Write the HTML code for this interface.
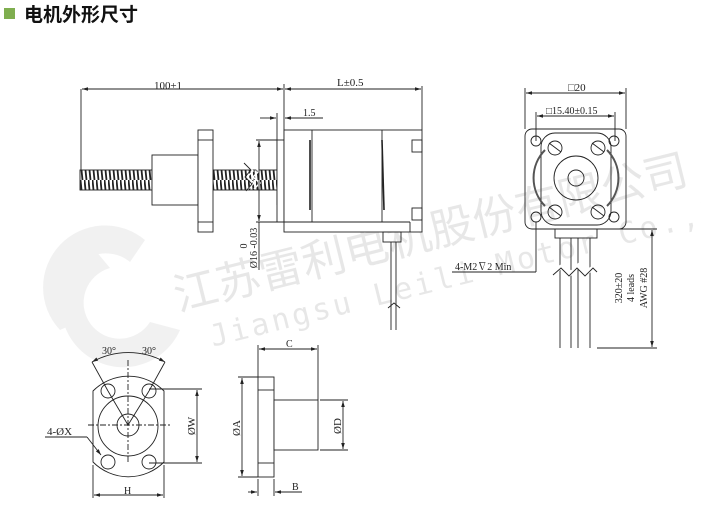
<!DOCTYPE html>
<html><head><meta charset="utf-8"><style>
html,body{margin:0;padding:0;background:#fff;width:701px;height:517px;overflow:hidden}
svg{display:block}
text{font-family:"Liberation Serif","Noto Serif CJK SC",serif;fill:#222}
</style></head><body>
<svg width="701" height="517" viewBox="0 0 701 517" xmlns="http://www.w3.org/2000/svg">
<defs>
<marker id="a" viewBox="0 0 10 6" refX="10" refY="3" markerWidth="8" markerHeight="4" orient="auto-start-reverse"><path d="M0,0L10,3L0,6z" fill="#222"/></marker>
<pattern id="thr" width="4" height="20" patternUnits="userSpaceOnUse"><rect width="4" height="20" fill="#fff"/><line x1="0.5" y1="0" x2="2.5" y2="20" stroke="#222" stroke-width="1.8"/></pattern>
</defs>
<!-- title -->
<rect x="4" y="8" width="11" height="11" fill="#7fae4f"/>
<text x="24" y="21" style="font-family:'Liberation Sans','Noto Sans CJK SC',sans-serif;font-weight:bold;font-size:19px;fill:#111">电机外形尺寸</text>

<!-- watermark -->
<g opacity="0.07" fill="#444">
<path d="M95,250 A62,62 0 1 0 180,330 L150,322 A36,36 0 1 1 110,268 Z"/>
<path d="M60,330 A62,62 0 0 1 145,240 L130,262 A36,36 0 0 0 82,320 Z"/>
</g>
<g transform="rotate(-14 400 230)" opacity="0.11">
<text x="165" y="255" style="font-family:'Noto Sans CJK SC',sans-serif;font-size:44px;fill:#333">江苏雷利电机股份有限公司</text>
<text x="190" y="298" style="font-family:'DejaVu Sans Mono',monospace;font-size:30px;fill:#333;letter-spacing:3px">Jiangsu Leili Motor Co.,Ltd.</text>
</g>

<g stroke="#222" stroke-width="0.9" fill="none">
<!-- top dims -->
<line x1="81" y1="89" x2="81" y2="170"/>
<line x1="284" y1="84" x2="284" y2="150"/>
<line x1="422" y1="86" x2="422" y2="130"/>
<line x1="82" y1="89" x2="283" y2="89" marker-start="url(#a)" marker-end="url(#a)"/>
<line x1="285" y1="89" x2="421" y2="89" marker-start="url(#a)" marker-end="url(#a)"/>
<line x1="260" y1="118" x2="276" y2="118" marker-end="url(#a)"/>
<line x1="285" y1="118" x2="323" y2="118" marker-start="url(#a)"/>
<line x1="277" y1="113" x2="277" y2="205"/>
<!-- leadscrew -->
<rect x="80" y="170" width="72" height="20" fill="url(#thr)"/>
<rect x="213" y="170" width="64" height="20" fill="url(#thr)"/>
<rect x="152" y="155" width="46" height="50" fill="#fff"/>
<rect x="198" y="130" width="15" height="102" fill="#fff"/>
<line x1="198" y1="140" x2="213" y2="140"/><line x1="198" y1="222" x2="213" y2="222"/>
<path d="M246,165 l7,6 -6,6 7,6 -6,6 M252,165 l7,6 -6,6 7,6 -6,6" stroke-width="1.5" stroke="#fff"/>
<path d="M244,163 l7,7 -6,7 7,7 -6,7" />
<!-- motor -->
<rect x="277" y="140" width="7" height="82" fill="#fff"/>
<rect x="284" y="130" width="138" height="102" fill="#fff"/>
<line x1="284" y1="222" x2="410" y2="222"/>
<line x1="312" y1="130" x2="312" y2="222"/>
<line x1="382" y1="130" x2="382" y2="222"/>
<line x1="310" y1="140" x2="310" y2="210" stroke-width="1.6"/>
<line x1="382" y1="140" x2="384" y2="210" stroke-width="1.6"/>
<rect x="412" y="140" width="10" height="12"/>
<rect x="412" y="208" width="10" height="12"/>
<line x1="410" y1="222" x2="410" y2="232"/>
<rect x="383" y="232" width="18" height="10"/>
<line x1="391" y1="242" x2="391" y2="330"/><line x1="396" y1="242" x2="396" y2="330"/>
<path d="M388,308 l6,-5 6,5" />
<!-- phi16 dim -->
<line x1="259" y1="141" x2="259" y2="221" marker-start="url(#a)" marker-end="url(#a)"/>
<line x1="256" y1="140" x2="277" y2="140"/><line x1="256" y1="222" x2="284" y2="222"/>
<line x1="259" y1="222" x2="259" y2="270"/>
</g>
<text x="0" y="0" font-size="10" transform="translate(247,246) rotate(-90)" text-anchor="middle">0</text>
<text x="0" y="0" font-size="10" transform="translate(257,248) rotate(-90)" text-anchor="middle">Ø16 -0.03</text>
<text x="154" y="89" font-size="11">100±1</text>
<text x="337" y="86" font-size="11">L±0.5</text>
<text x="303" y="116" font-size="10">1.5</text>

<!-- right end view -->
<g stroke="#222" stroke-width="0.9" fill="none">
<line x1="525" y1="88" x2="525" y2="129"/><line x1="626" y1="88" x2="626" y2="129"/>
<line x1="526" y1="93" x2="625" y2="93" marker-start="url(#a)" marker-end="url(#a)"/>
<line x1="536" y1="112" x2="536" y2="141"/><line x1="615" y1="112" x2="615" y2="141"/>
<line x1="537" y1="116" x2="614" y2="116" marker-start="url(#a)" marker-end="url(#a)"/>
<rect x="525" y="129" width="101" height="100" rx="7"/>
<rect x="541" y="133" width="70" height="92" rx="14"/>
<path d="M545,150 A40,40 0 0 0 545,206" stroke-width="2" stroke="#555"/>
<path d="M607,150 A40,40 0 0 1 607,206" stroke-width="2" stroke="#555"/>
<circle cx="536" cy="141" r="5"/><circle cx="614" cy="141" r="5"/>
<circle cx="536" cy="217" r="5"/><circle cx="614" cy="217" r="5"/>
<circle cx="576" cy="178" r="22"/><circle cx="576" cy="178" r="8"/>
<circle cx="555" cy="148" r="7"/><circle cx="598" cy="148" r="7"/>
<circle cx="555" cy="212" r="7"/><circle cx="598" cy="212" r="7"/>
<line x1="549" y1="143" x2="561" y2="152"/><line x1="592" y1="143" x2="604" y2="152"/>
<line x1="549" y1="207" x2="561" y2="216"/><line x1="592" y1="207" x2="604" y2="216"/>
<rect x="555" y="229" width="42" height="9"/>
<line x1="560" y1="238" x2="560" y2="348"/><line x1="571" y1="238" x2="571" y2="348"/>
<line x1="578" y1="238" x2="578" y2="348"/><line x1="590" y1="238" x2="590" y2="348"/>
<path d="M555,272 l8,-7 8,8 8,-8 8,8 8,-8 l4,4" stroke="#fff" stroke-width="4"/>
<path d="M553,275 l8,-7 8,8 8,-8 8,8 8,-8 l4,4"/>
<line x1="536" y1="222" x2="536" y2="272"/>
<line x1="452" y1="272" x2="536" y2="272"/>
<line x1="597" y1="229" x2="657" y2="229"/><line x1="597" y1="348" x2="657" y2="348"/>
<line x1="652" y1="230" x2="652" y2="347" marker-start="url(#a)" marker-end="url(#a)"/>
</g>
<text x="568" y="91" font-size="11">□20</text>
<text x="546" y="114" font-size="10">□15.40±0.15</text>
<text x="455" y="270" font-size="10">4-M2∇2 Min</text>
<text font-size="10" transform="translate(622,288) rotate(-90)" text-anchor="middle">320±20</text>
<text font-size="10" transform="translate(634,288) rotate(-90)" text-anchor="middle">4 leads</text>
<text font-size="10" transform="translate(647,288) rotate(-90)" text-anchor="middle">AWG #28</text>

<!-- bottom left flange front view -->
<g stroke="#222" stroke-width="0.9" fill="none">
<path d="M93,391 A50,50 0 0 1 164,391 L164,462 A50,50 0 0 1 93,462 Z" fill="#fff"/>
<circle cx="128" cy="426" r="30"/><circle cx="128" cy="425" r="11"/>
<circle cx="108" cy="391" r="7"/><circle cx="149" cy="391" r="7"/>
<circle cx="108" cy="462" r="7"/><circle cx="149" cy="462" r="7"/>
<line x1="128" y1="360" x2="128" y2="462" stroke-dasharray="6,2,2,2"/>
<line x1="88" y1="425" x2="170" y2="425" stroke-dasharray="6,2,2,2"/>
<line x1="128" y1="425" x2="108" y2="391"/><line x1="128" y1="425" x2="149" y2="391"/>
<line x1="108" y1="391" x2="92" y2="362"/><line x1="149" y1="391" x2="165" y2="362"/>
<path d="M92,362 A75,75 0 0 1 165,362" marker-start="url(#a)" marker-end="url(#a)"/>
<line x1="93" y1="465" x2="93" y2="498"/><line x1="164" y1="465" x2="164" y2="498"/>
<line x1="94" y1="495" x2="163" y2="495" marker-start="url(#a)" marker-end="url(#a)"/>
<line x1="149" y1="389" x2="202" y2="389"/><line x1="149" y1="463" x2="202" y2="463"/>
<line x1="197" y1="390" x2="197" y2="462" marker-start="url(#a)" marker-end="url(#a)"/>
<line x1="45" y1="437" x2="87" y2="437"/>
<line x1="87" y1="437" x2="101" y2="455" marker-end="url(#a)"/>
</g>
<text x="102" y="354" font-size="10">30°</text>
<text x="142" y="354" font-size="10">30°</text>
<text x="124" y="494" font-size="10">H</text>
<text x="47" y="435" font-size="11">4-ØX</text>
<text font-size="11" transform="translate(195,426) rotate(-90)" text-anchor="middle">ØW</text>

<!-- flange side view -->
<g stroke="#222" stroke-width="0.9" fill="none">
<rect x="258" y="377" width="16" height="100" fill="#fff"/>
<line x1="258" y1="390" x2="274" y2="390"/><line x1="258" y1="463" x2="274" y2="463"/>
<rect x="274" y="400" width="44" height="50" fill="#fff"/>
<line x1="258" y1="345" x2="258" y2="377"/><line x1="318" y1="345" x2="318" y2="400"/>
<line x1="259" y1="349" x2="317" y2="349" marker-start="url(#a)" marker-end="url(#a)"/>
<line x1="238" y1="377" x2="258" y2="377"/><line x1="238" y1="477" x2="258" y2="477"/>
<line x1="242" y1="378" x2="242" y2="476" marker-start="url(#a)" marker-end="url(#a)"/>
<line x1="320" y1="400" x2="348" y2="400"/><line x1="320" y1="450" x2="348" y2="450"/>
<line x1="343" y1="401" x2="343" y2="449" marker-start="url(#a)" marker-end="url(#a)"/>
<line x1="258" y1="479" x2="258" y2="496"/><line x1="274" y1="479" x2="274" y2="496"/>
<line x1="248" y1="492" x2="257" y2="492" marker-end="url(#a)"/>
<line x1="275" y1="492" x2="302" y2="492" marker-start="url(#a)"/>
</g>
<text x="286" y="347" font-size="10">C</text>
<text x="292" y="490" font-size="10">B</text>
<text font-size="11" transform="translate(240,428) rotate(-90)" text-anchor="middle">ØA</text>
<text font-size="11" transform="translate(341,426) rotate(-90)" text-anchor="middle">ØD</text>
</svg>
</body></html>
